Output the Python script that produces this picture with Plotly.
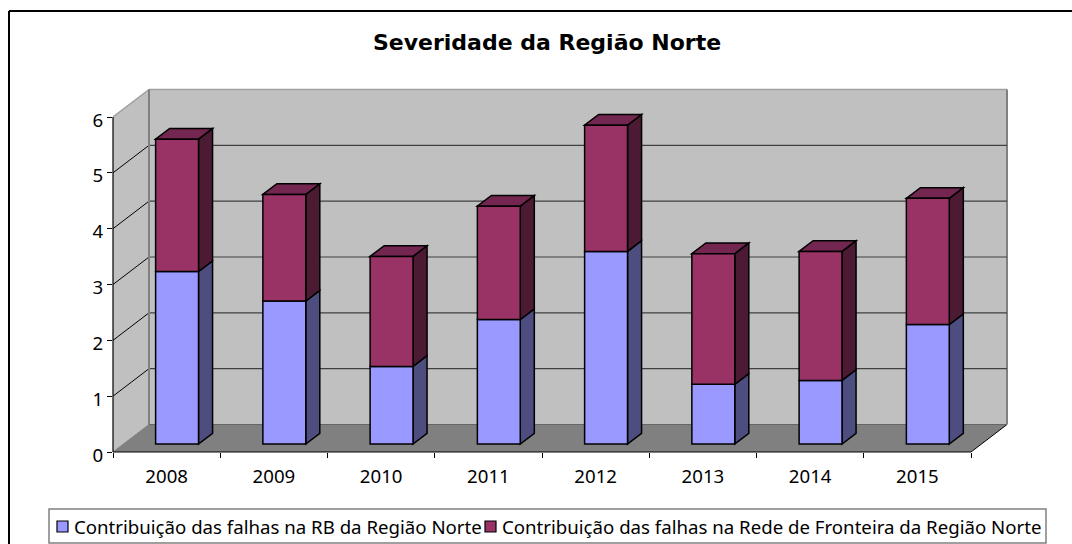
import plotly.graph_objects as go

# ---- data ----
years = ["2008", "2009", "2010", "2011", "2012", "2013", "2014", "2015"]
rb = [3.09, 2.56, 1.39, 2.23, 3.45, 1.07, 1.14, 2.14]
fronteira = [2.37, 1.91, 1.97, 2.03, 2.26, 2.34, 2.31, 2.26]
y_ticks = [0, 1, 2, 3, 4, 5, 6]
name_rb = "Contribuição das falhas na RB da Região Norte"
name_fr = "Contribuição das falhas na Rede de Fronteira da Região Norte"
title = "Severidade da Região Norte"

# ---- geometry (pixels of the page) ----
W, H = 1072, 544
AX_L, AX_R, AX_B, AX_T = 113, 971, 452, 117      # front plane of the box
DEPTH_PX_X, DEPTH_PX_Y = 36, 27.5                # box depth
PLOT_R, PLOT_T = 1010, 87                        # room for the back wall
UX = (AX_R - AX_L) / len(years)
UY = (AX_B - AX_T) / 6
DX, DY = DEPTH_PX_X / UX, DEPTH_PX_Y / UY
BAR_W = 0.40
D_FRONT, D_BACK = 0.29, 0.68                     # bar front/back depth within the box

X0 = -0.5
X1 = X0 + len(years)
xmax = X0 + (PLOT_R - AX_L) / UX
ymax = (AX_B - PLOT_T) / UY


def P(x, y, d=0.0):
    return x + d * DX, y + d * DY


def poly(points, fill, line="rgba(0,0,0,0)", width=0, layer="below"):
    path = "M" + " L".join(f"{a:.4f},{b:.4f}" for a, b in points) + " Z"
    return dict(type="path", xref="x", yref="y", path=path, fillcolor=fill,
                line=dict(color=line, width=width), layer=layer)


def seg(a, b, color, width, layer="below"):
    return dict(type="line", xref="x", yref="y", x0=a[0], y0=a[1], x1=b[0], y1=b[1],
                line=dict(color=color, width=width), layer=layer)


def px_x(v):
    return (v - AX_L) / (PLOT_R - AX_L)


def px_y(v):
    return (AX_B - v) / (AX_B - PLOT_T)


def px_line(x0, y0, x1, y1, color, width):
    return dict(type="line", xref="paper", yref="paper", x0=px_x(x0), y0=px_y(y0),
                x1=px_x(x1), y1=px_y(y1), line=dict(color=color, width=width), layer="above")


def px_rect(x0, y0, x1, y1, fill, line, width):
    return dict(type="rect", xref="paper", yref="paper", x0=px_x(x0), y0=px_y(y0),
                x1=px_x(x1), y1=px_y(y1), fillcolor=fill, line=dict(color=line, width=width),
                layer="above")


shapes = []
# walls and floor
shapes.append(poly([P(X0, 0), P(X0, 6), P(X0, 6, 1), P(X0, 0, 1)], "#C0C0C0"))
shapes.append(poly([P(X0, 0, 1), P(X0, 6, 1), P(X1, 6, 1), P(X1, 0, 1)], "#C0C0C0"))
shapes.append(poly([P(X0, 0), P(X0, 0, 1), P(X1, 0, 1), P(X1, 0)], "#808080"))
shapes.append(seg(P(X0, 6), P(X0, 6, 1), "#A0A0A0", 1.5))
shapes.append(seg(P(X0, 6, 1), P(X1, 6, 1), "#A0A0A0", 1.5))
shapes.append(seg(P(X1, 6, 1), P(X1, 0, 1), "#808080", 2))
shapes.append(seg(P(X1, 0, 1), P(X1, 0), "#000000", 1))
shapes.append(seg(P(X0, 0), P(X0, 0, 1), "#808080", 1))
# gridlines
for t in y_ticks[1:-1]:
    shapes.append(seg(P(X0, t), P(X0, t, 1), "#000000", 1))
    shapes.append(seg(P(X0, t, 1), P(X1, t, 1), "#404040", 1.2))
shapes.append(seg(P(X0, 0, 1), P(X0, 6, 1), "#808080", 2))
shapes.append(seg(P(X0, 0, 1), P(X1, 0, 1), "#666666", 1))

# bar sides and tops
for i in range(len(years)):
    xl = i - BAR_W / 2
    xr = i + BAR_W / 2
    a, b = rb[i], rb[i] + fronteira[i]
    shapes.append(poly([P(xr, 0, D_FRONT), P(xr, a, D_FRONT), P(xr, a, D_BACK), P(xr, 0, D_BACK)],
                       "#4D4D80", "#000000", 1.5))
    shapes.append(poly([P(xr, a, D_FRONT), P(xr, b, D_FRONT), P(xr, b, D_BACK), P(xr, a, D_BACK)],
                       "#4D1A33", "#000000", 1.5))
    shapes.append(poly([P(xl, b, D_FRONT), P(xl, b, D_BACK), P(xr, b, D_BACK), P(xr, b, D_FRONT)],
                       "#732650", "#000000", 1.5))

# axis lines and frames
shapes.append(px_line(AX_L, AX_B, AX_L, AX_T, "#000000", 1.2))
shapes.append(px_line(AX_L, AX_B, AX_R, AX_B, "#000000", 1.2))
shapes.append(px_line(9, 11, 1072, 11, "#000000", 2))
shapes.append(px_line(9, 11, 9, 544, "#000000", 2))
# legend frame and swatches
LEG_Y = 526
shapes.append(px_rect(49, 509, 1046, 543, "white", "#808080", 1.5))
shapes.append(px_rect(57, 521, 68, 532, "#9999FF", "#000000", 1.2))
shapes.append(px_rect(485, 521, 496, 532, "#993366", "#000000", 1.2))

FS = 18.65
FONT = "Noto Sans"
annotations = [
    dict(text=name_rb, xref="paper", yref="paper", x=px_x(72), y=px_y(LEG_Y), xanchor="left",
         yanchor="middle", showarrow=False, font=dict(family=FONT, size=FS, color="#000000")),
    dict(text=name_fr, xref="paper", yref="paper", x=px_x(500), y=px_y(LEG_Y), xanchor="left",
         yanchor="middle", showarrow=False, font=dict(family=FONT, size=FS, color="#000000")),
]

x_front = [i + D_FRONT * DX for i in range(len(years))]
fig = go.Figure()
fig.add_trace(go.Bar(
    x=x_front, y=rb, base=[D_FRONT * DY] * len(years), width=BAR_W, name=name_rb,
    marker=dict(color="#9999FF", line=dict(color="#000000", width=1.5))))
fig.add_trace(go.Bar(
    x=x_front, y=fronteira, base=[v + D_FRONT * DY for v in rb], width=BAR_W, name=name_fr,
    marker=dict(color="#993366", line=dict(color="#000000", width=1.5))))

fig.update_layout(
    width=W, height=H, autosize=False, barmode="overlay",
    paper_bgcolor="white", plot_bgcolor="rgba(0,0,0,0)",
    margin=dict(l=AX_L, r=W - PLOT_R, t=PLOT_T, b=H - AX_B, pad=0, autoexpand=False),
    font=dict(family=FONT, size=FS, color="#000000"),
    title=dict(text=f"<b>{title}</b>", x=547 / W, xanchor="center", y=1 - 42 / H, yanchor="middle",
               yref="container", font=dict(family="DejaVu Sans", size=22, color="#000000")),
    xaxis=dict(range=[X0, xmax], tickmode="array", tickvals=list(range(len(years))), ticktext=years,
               showgrid=False, zeroline=False, showline=False, ticks="", ticklen=0,
               tickfont=dict(size=FS), ticklabelstandoff=11,
               minor=dict(tickmode="array", tickvals=[X0 + k for k in range(len(years) + 1)],
                          ticks="outside", ticklen=5, tickcolor="#000000", tickwidth=1, showgrid=False)),
    yaxis=dict(range=[0, ymax], tickmode="array", tickvals=y_ticks, showgrid=False, zeroline=False,
               showline=False, ticks="outside", ticklen=5, tickcolor="#000000", tickwidth=1,
               tickfont=dict(size=FS), ticklabelshift=3),
    shapes=shapes,
    annotations=annotations,
    showlegend=False,
)
fig.write_html("out.html", config={"displayModeBar": False},
               post_script="document.body.style.margin='0';")
